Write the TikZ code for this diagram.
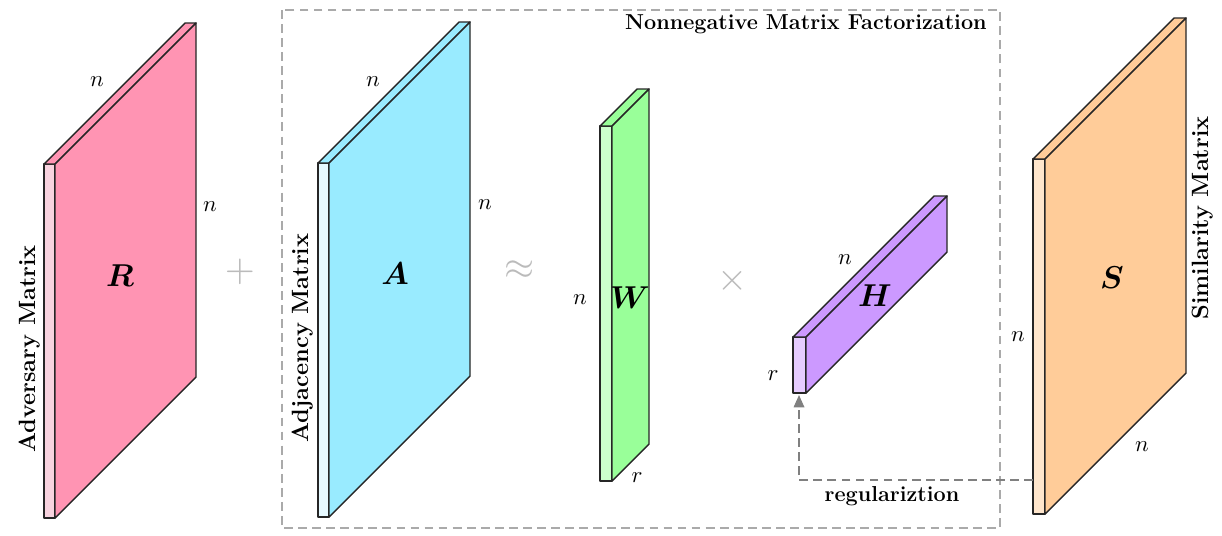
\documentclass[tikz,border=0pt]{standalone}
\usepackage{amsmath,bm}
\usetikzlibrary{arrows.meta}
\definecolor{rMain}{HTML}{FF94B3}
\definecolor{rLight}{HTML}{F8D3DF}
\definecolor{aMain}{HTML}{99EBFF}
\definecolor{aLight}{HTML}{E6F9FF}
\definecolor{wMain}{HTML}{99FF99}
\definecolor{wLight}{HTML}{CCFFCC}
\definecolor{hMain}{HTML}{CC99FF}
\definecolor{hLight}{HTML}{E6CCFF}
\definecolor{sMain}{HTML}{FFCC99}
\definecolor{sLight}{HTML}{FFE6CC}
\definecolor{boxgray}{HTML}{AAAAAA}
\definecolor{opgray}{HTML}{BBBBBB}
\tikzset{
  slabline/.style={draw=black!85, line width=0.8pt, line join=round},
  dimlabel/.style={inner sep=0pt, font=\normalsize, scale=1.3},
  matlabel/.style={inner sep=0pt, font=\normalsize, scale=1.8},
  sidelabel/.style={inner sep=0pt, font=\fontsize{13.4}{16}\selectfont\bfseries, rotate=90},
  oplabel/.style={inner sep=0pt, text=opgray, font=\normalsize, scale=2.2},
  boldtext/.style={inner sep=0pt, font=\fontsize{12.3}{14}\selectfont\bfseries},
}
\newcommand{\slab}[8]{%
  \coordinate (#8) at (#1,#2);
  \filldraw[fill=#7, slabline] (#1,#2) rectangle ++(#3,#4);
  \filldraw[fill=#6, slabline] (#1,#2) -- ++(#5,-#5) -- ++(#3,0) -- ++(-#5,#5) -- cycle;
  \filldraw[fill=#6, slabline] (#1+#3,#2) -- ++(#5,-#5) -- ++(0,#4) -- ++(-#5,#5) -- cycle;
}
\begin{document}
\begin{tikzpicture}[x=0.02cm, y=-0.02cm]
\useasboundingbox (0,0) rectangle (1222,535);
% NMF dashed box
\draw[boxgray, dashed, line width=0.9pt, dash pattern=on 5pt off 3pt] (282,10) rectangle (1000,528);
\node[boldtext, anchor=east] (title) at (987,24) {Nonnegative Matrix Factorization};

% R
\slab{44}{164}{11}{354}{141}{rMain}{rLight}{R}
\node[matlabel] (Rl) at (120,276) {$\bm{R}$};
\node[dimlabel] (Rn1) at (97,82) {$n$};
\node[dimlabel] (Rn2) at (210,207) {$n$};
\node[sidelabel] (Rs) at (30,349) {Adversary Matrix};

\node[oplabel] (plus) at (240,272) {$+$};

% A
\slab{318}{163}{11}{354}{141}{aMain}{aLight}{A}
\node[matlabel] (Al) at (395,274) {$\bm{A}$};
\node[dimlabel] (An1) at (373,82) {$n$};
\node[dimlabel] (An2) at (485,205) {$n$};
\node[sidelabel] (As) at (303,338) {Adjacency Matrix};

\node[oplabel] (approx) at (520,270) {$\approx$};

% W
\slab{600}{126}{12}{355}{37}{wMain}{wLight}{W}
\node[matlabel] (Wl) at (630,298) {$\bm{W}$};
\node[dimlabel] (Wn) at (580,300) {$n$};
\node[dimlabel] (Wr) at (637,478) {$r$};

\node[oplabel] (times) at (733,281) {$\times$};

% H
\slab{793}{337}{13}{56}{141}{hMain}{hLight}{H}
\node[matlabel] (Hl) at (875,296) {$\bm{H}$};
\node[dimlabel] (Hn) at (845,260) {$n$};
\node[dimlabel] (Hr) at (773,376) {$r$};

% S
\slab{1033}{159}{12}{355}{141}{sMain}{sLight}{S}
\node[matlabel] (Sl) at (1112,278) {$\bm{S}$};
\node[dimlabel] (Sn1) at (1018,337) {$n$};
\node[dimlabel] (Sn2) at (1142,447) {$n$};
\node[sidelabel] (Ss) at (1203,218) {Similarity Matrix};

% regularization arrow
\coordinate (sIn) at (1033,480);
\coordinate (hOut) at (799,395);
\draw[gray, dashed, line width=0.9pt, dash pattern=on 5pt off 3pt, -{Triangle[length=7pt,width=6pt]}] (sIn) -| (hOut);
\node[boldtext] (reg) at (892,496) {regulariztion};
\end{tikzpicture}
\end{document}
